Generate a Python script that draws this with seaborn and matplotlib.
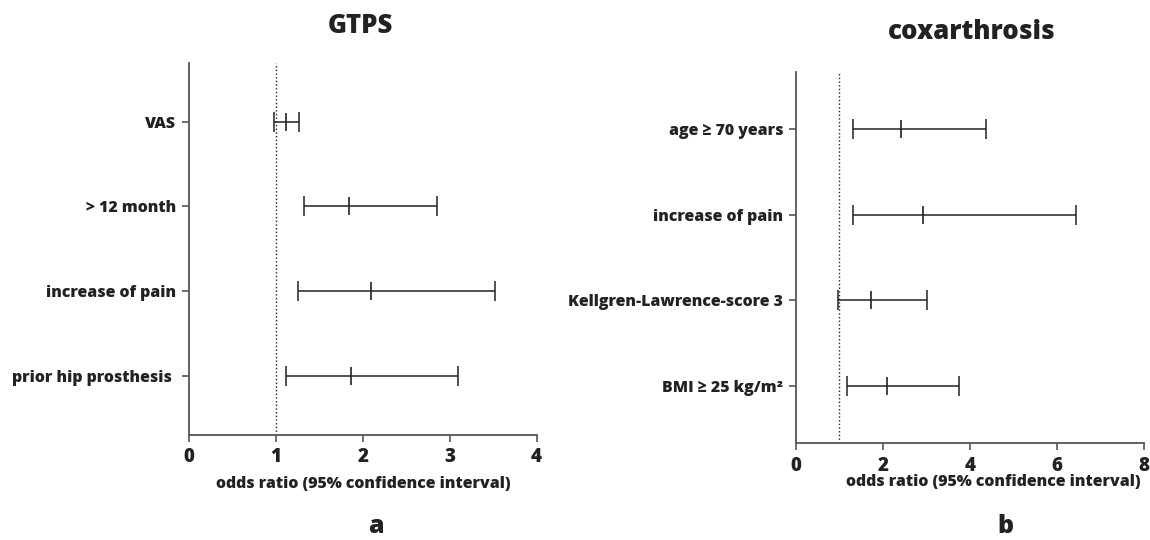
import matplotlib.pyplot as plt
import numpy as np
import pandas as pd
import seaborn as sns

# panel a: GTPS
gtps_labels = ["VAS", "> 12 month", "increase of pain", "prior hip prosthesis "]
gtps_or = [1.12, 1.845, 2.09, 1.86]
gtps_low = [0.98, 1.32, 1.25, 1.12]
gtps_high = [1.27, 2.85, 3.52, 3.10]

# panel b: coxarthrosis
cox_labels = ["age ≥ 70 years", "increase of pain", "Kellgren-Lawrence-score 3", "BMI ≥ 25 kg/m²"]
cox_or = [2.41, 2.92, 1.72, 2.09]
cox_low = [1.32, 1.32, 0.97, 1.17]
cox_high = [4.375, 6.44, 3.02, 3.75]

INK = "#222222"
SPINE = "#555555"
W = "heavy"

sns.set_style("ticks")
plt.rcParams["font.family"] = ["Open Sans", "DejaVu Sans"]
plt.rcParams["font.weight"] = W


def forest(ax, labels, odds, low, high, xmax, xstep, pad):
    df = pd.DataFrame({"label": labels, "odds": odds, "low": low, "high": high})
    df["pos"] = np.arange(len(df))[::-1]
    err = [df["odds"] - df["low"], df["high"] - df["odds"]]
    ax.errorbar(df["odds"], df["pos"], xerr=err, fmt="none", ecolor=INK,
                elinewidth=1.1, capsize=7, capthick=1.1)
    sns.scatterplot(data=df, x="odds", y="pos", marker="|", s=170, color=INK,
                    linewidth=1.2, ax=ax, legend=False, zorder=3)
    ax.axvline(1, ls=":", color=INK, lw=1.0)
    ax.set_xlim(0, xmax)
    ax.set_ylim(-pad, len(df) - 1 + pad)
    ax.set_xticks(np.arange(0, xmax + 0.01, xstep))
    ax.set_yticks(df["pos"])
    ax.set_yticklabels(df["label"], fontsize=11.4, fontweight=W, color=INK)
    for t in ax.get_xticklabels():
        t.set_fontsize(13.5)
        t.set_fontweight(W)
        t.set_color(INK)
    ax.tick_params(axis="both", length=5, width=1.2, color=SPINE)
    ax.tick_params(axis="y", pad=4)
    ax.tick_params(axis="x", pad=4)
    ax.set_ylabel("")
    sns.despine(ax=ax)
    for side in ["left", "bottom"]:
        ax.spines[side].set_color(SPINE)
        ax.spines[side].set_linewidth(1.3)


fig = plt.figure(figsize=(11.5, 5.4), dpi=100)
ax_a = fig.add_axes([0.1643, 0.195, 0.3023, 0.6878])
ax_b = fig.add_axes([0.6919, 0.1796, 0.3029, 0.6876])

forest(ax_a, gtps_labels, gtps_or, gtps_low, gtps_high, 4, 1, 0.685)
forest(ax_b, cox_labels, cox_or, cox_low, cox_high, 8, 2, 0.67)

for ax, (lx, ly) in [(ax_a, (0.503, -0.1435)), (ax_b, (0.566, -0.1158))]:
    ax.set_xlabel("odds ratio (95% confidence interval)", fontsize=11.4,
                  fontweight=W, color=INK, va="baseline")
    ax.xaxis.set_label_coords(lx, ly)

fig.text(360 / 1150, 1 - 33 / 540, "GTPS", ha="center", va="baseline",
         fontsize=18.5, fontweight=W, color=INK)
fig.text(971.7 / 1150, 1 - 39.3 / 540, "coxarthrosis", ha="center", va="baseline",
         fontsize=18.5, fontweight=W, color=INK)
fig.text(376 / 1150, 1 - 533 / 540, "a", ha="center", va="baseline",
         fontsize=18, fontweight=W, color=INK)
fig.text(1005 / 1150, 1 - 533 / 540, "b", ha="center", va="baseline",
         fontsize=18, fontweight=W, color=INK)

fig.savefig("out.png", dpi=100)
plt.close(fig)
